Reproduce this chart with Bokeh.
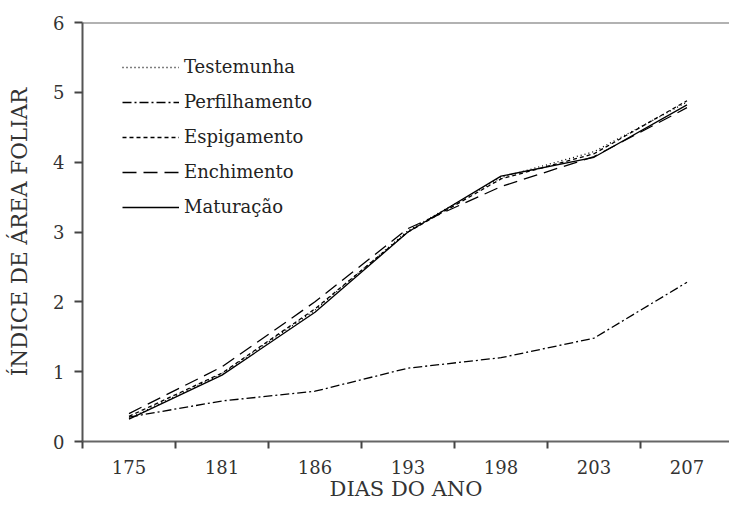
from bokeh.plotting import figure
from bokeh.models import FixedTicker, Span, Legend, LegendItem
from bokeh.embed import file_html
from bokeh.resources import INLINE

days = ["175", "181", "186", "193", "198", "203", "207"]
testemunha = [0.33, 0.97, 1.88, 3.02, 3.78, 4.15, 4.86]
perfilhamento = [0.35, 0.58, 0.72, 1.05, 1.20, 1.48, 2.28]
espigamento = [0.36, 0.98, 1.90, 3.00, 3.76, 4.12, 4.88]
enchimento = [0.40, 1.07, 2.00, 3.05, 3.65, 4.08, 4.78]
maturacao = [0.32, 0.95, 1.85, 3.00, 3.80, 4.07, 4.82]
y_ticks = [0, 1, 2, 3, 4, 5, 6]

xs = list(range(len(days)))
FONT = "DejaVu Serif"

p = figure(width=729, height=512, output_backend="svg", toolbar_location=None,
           x_range=(-0.5, 6.457), y_range=(0, 6),
           min_border_left=82, min_border_top=22, min_border_bottom=71, min_border_right=0)
p.outline_line_color = None
p.grid.grid_line_color = None
p.background_fill_color = "white"

series = [
    ("Testemunha", testemunha, "1 3"),
    ("Perfilhamento", perfilhamento, "9 3 2 3"),
    ("Espigamento", espigamento, "4 3"),
    ("Enchimento", enchimento, "14 7"),
    ("Maturação", maturacao, "solid"),
]
items = []
for name, ys, dash in series:
    r = p.line(xs, ys, line_color="black", line_width=1.3, line_dash=dash)
    items.append(LegendItem(label=name, renderers=[r]))

legend = Legend(items=items, location=(40, 224), background_fill_alpha=0,
                border_line_color=None, label_text_font=FONT,
                label_text_font_size="18px", label_text_color="#222",
                glyph_width=57, glyph_height=20, spacing=14, label_standoff=5,
                padding=6, margin=0)
p.add_layout(legend)

xa = p.xaxis[0]
xa.ticker = FixedTicker(ticks=xs, minor_ticks=[i - 0.5 for i in range(len(days) + 1)])
xa.major_label_overrides = {i: d for i, d in enumerate(days)}
xa.major_tick_in = 0
xa.major_tick_out = 0
xa.minor_tick_in = 0
xa.minor_tick_out = 7
xa.minor_tick_line_color = "#444"
xa.minor_tick_line_width = 2
xa.axis_line_color = "#666"
xa.axis_line_width = 2
xa.major_label_text_font = FONT
xa.major_label_text_font_size = "18px"
xa.major_label_text_color = "#333"
xa.major_label_standoff = 11
xa.axis_label = "DIAS DO ANO"
xa.axis_label_text_font = FONT
xa.axis_label_text_font_size = "21px"
xa.axis_label_text_font_style = "normal"
xa.axis_label_text_color = "#333"
xa.axis_label_standoff = 0

ya = p.yaxis[0]
ya.ticker = FixedTicker(ticks=y_ticks)
ya.minor_tick_line_color = None
ya.major_tick_in = 0
ya.major_tick_out = 8
ya.major_tick_line_color = "#444"
ya.major_tick_line_width = 2
ya.axis_line_color = "#555"
ya.axis_line_width = 2
ya.major_label_text_font = FONT
ya.major_label_text_font_size = "18px"
ya.major_label_text_color = "#333"
ya.major_label_standoff = 10
ya.axis_label = "ÍNDICE DE ÁREA FOLIAR"
ya.axis_label_text_font = FONT
ya.axis_label_text_font_size = "21.5px"
ya.axis_label_text_font_style = "normal"
ya.axis_label_text_color = "#333"
ya.axis_label_standoff = 18

p.add_layout(Span(location=6, dimension="width", line_color="#666", line_width=2))

open("out.html", "w").write(file_html(p, INLINE))
